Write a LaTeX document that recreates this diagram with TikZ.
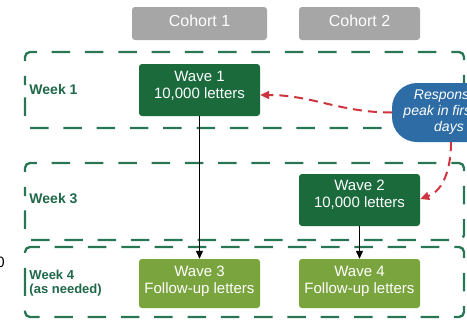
\documentclass[tikz,border=0pt]{standalone}
\usepackage{fontspec}
\setmainfont{Liberation Sans}
\usetikzlibrary{arrows.meta}
\definecolor{dkgreen}{RGB}{27,106,60}
\definecolor{ltgreen}{RGB}{122,164,62}
\definecolor{framegreen}{RGB}{40,118,84}
\definecolor{weekgreen}{RGB}{30,104,72}
\definecolor{cgray}{RGB}{166,166,166}
\definecolor{bblue}{RGB}{46,108,166}
\definecolor{arrred}{RGB}{206,52,62}
\tikzset{
  frame/.style={draw=framegreen, line width=2.3pt, dash pattern=on 18.5pt off 14.8pt, dash phase=9.25pt, rounded corners=5pt},
  cohortbox/.style={fill=cgray, rounded corners=3pt, inner sep=0pt, minimum height=33pt},
  cohorttext/.style={text=white, font=\fontsize{16}{19}\selectfont, inner sep=0pt},
  darkbox/.style={fill=dkgreen, rounded corners=3pt, inner sep=0pt, minimum width=121pt, minimum height=52pt},
  lightbox/.style={fill=ltgreen, rounded corners=3pt, inner sep=0pt, minimum width=121pt, minimum height=49pt},
  wavetext/.style={text=white, font=\fontsize{15}{17.3}\selectfont, align=center, inner sep=0pt},
  weeklabel/.style={text=weekgreen, font=\bfseries\fontsize{14}{16}\selectfont, anchor=west, inner sep=0pt, align=left},
  weeklabelsmall/.style={text=weekgreen, font=\bfseries\fontsize{13}{14.3}\selectfont, anchor=west, inner sep=0pt, align=left},
  bubble/.style={fill=bblue, rounded corners=25pt, inner sep=0pt, minimum width=118pt, minimum height=59pt},
  bubtext/.style={text=white, font=\itshape\fontsize{14}{16}\selectfont, align=center, inner sep=0pt},
  redarrow/.style={draw=arrred, line width=2pt, dash pattern=on 9pt off 6pt, -{Triangle[length=9pt,width=8pt]}},
  blackarrow/.style={draw=black, line width=1.3pt, -{Triangle[length=8pt,width=7pt]}}
}
\begin{document}
\begin{tikzpicture}[x=1pt,y=-1pt]
\useasboundingbox (0,0) rectangle (467,322);

% week frames
\draw[frame] (25,90) -- (25,52) -- (464,52) -- (464,128) -- (25,128) -- cycle;
\draw[frame] (25,201) -- (25,163) -- (464,163) -- (464,240) -- (25,240) -- cycle;
\draw[frame] (25,282) -- (25,247) -- (464,247) -- (464,317) -- (25,317) -- cycle;

% week labels
\node[weeklabel] (wk1) at (29.3,89.3) {Week 1};
\node[weeklabel] (wk3) at (29.3,198.3) {Week 3};
\node[weeklabelsmall] (wk4) at (29.3,282.8) {Week 4\\(as needed)};

% cohort headers
\node[cohortbox, minimum width=135pt] (c1) at (199.5,23.5) {};
\node[cohorttext] (c1t) at (199.5,21) {Cohort 1};
\node[cohortbox, minimum width=121pt] (c2) at (359.5,23.5) {};
\node[cohorttext] (c2t) at (359.5,21) {Cohort 2};

% waves
\node[darkbox] (w1) at (199.5,90) {};
\node[wavetext] (w1t) at (199.5,86.1) {Wave 1\\10,000 letters};
\node[darkbox] (w2) at (359.5,200) {};
\node[wavetext] (w2t) at (359.5,194.4) {Wave 2\\10,000 letters};
\node[lightbox] (w3) at (199.5,283.5) {};
\node[wavetext] (w3t) at (199.5,281.6) {Wave 3\\Follow-up letters};
\node[lightbox] (w4) at (359.5,283.5) {};
\node[wavetext] (w4t) at (359.5,281.2) {Wave 4\\Follow-up letters};

% clipped fragment at left
\node[font=\fontsize{15}{17}\selectfont, anchor=east, inner sep=0pt] (zero) at (4.8,262) {0};

% bubble
\node[bubble] (bub) at (451,112.5) {};
\node[bubtext] (bubt) at (449,112) {Responses\\peak in first 10\\days};

% arrows
\draw[blackarrow] (w1.south) -- (w3.north);
\draw[blackarrow] (w2.south) -- (w4.north);
\draw[redarrow] (bub.west) to[out=180,in=0] ([yshift=-5pt]w1.east);
\draw[redarrow] (bub.south) to[out=-90,in=20] ([yshift=1pt]w2.east);
\end{tikzpicture}
\end{document}
